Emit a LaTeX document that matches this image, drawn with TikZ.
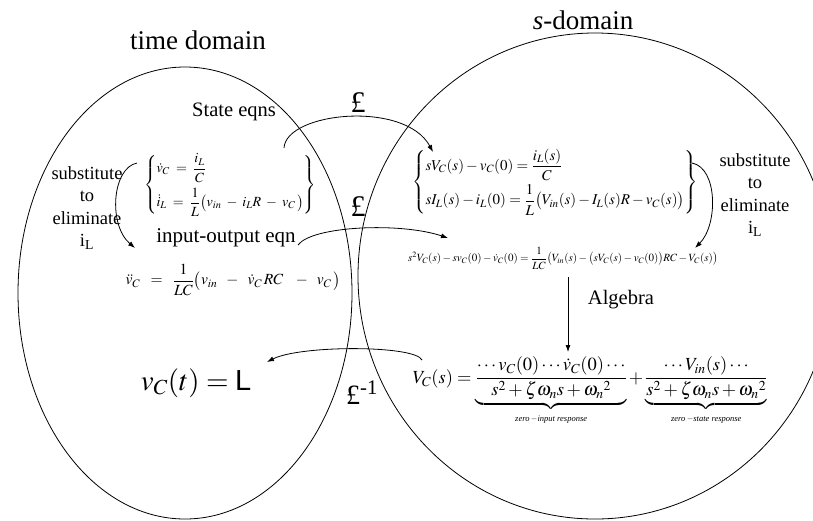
\documentclass[tikz,border=0pt]{standalone}
\usepackage{amsmath}
\usepackage{mathptmx}
\usepackage{fontspec}
\setmainfont{Liberation Serif}
\setsansfont{Liberation Sans}
\usetikzlibrary{arrows.meta}
\newcommand{\fs}[1]{\fontsize{#1}{#1}\selectfont}
\tikzset{
  txt/.style={inner sep=0pt, align=center},
  conn/.style={line width=0.8pt, -{Latex[length=7pt,width=5pt]}},
  dom/.style={line width=0.8pt},
}
\begin{document}
\begin{tikzpicture}[x=1pt,y=-1pt]
\useasboundingbox (0,0) rectangle (813,520);
\clip (0,0) rectangle (813,520);
% domains
\draw[dom] (185,293) ellipse [x radius=167pt, y radius=226pt];
\draw[dom] (595,276) ellipse [x radius=237pt, y radius=243pt];
\node[txt, font=\fs{27}] (td) at (198,40) {time domain};
\node[txt, font=\fs{27}] (sd) at (583,20) {\textit{s}-domain};
% time-domain texts
\node[txt, font=\fs{20.5}] (se) at (234,112) {State eqns};
\node[txt, font=\fs{14}] (lse) at (230,185)
  {$\left\{\begin{array}{@{}l@{}} \dot v_{C} \;=\; \dfrac{i_L}{C} \\[11pt]
   \dot{i}_{L} \;=\; \dfrac{1}{L}\bigl(v_{in} \;-\; i_L R \;-\; v_C\,\bigr) \end{array}\right\}$};
\node[txt, font=\fontsize{18.5}{22.5}\selectfont] (subl) at (87,208) {substitute\\to\\eliminate\\i\textsubscript{L}};
\node[txt, font=\fs{21}] (ioe) at (226,238) {input-output eqn};
\node[txt, font=\fs{15.5}] (ioeq) at (233,280)
  {$\ddot v_{C} \;\;=\;\; \dfrac{1}{LC}\bigl(v_{in} \;\;-\;\; \dot v_C\, RC \;\;\;-\;\; v_C\,\bigr)$};
\node[txt, font=\fs{29}] (vt) at (196,383) {$v_C(t) = \textsf{L}$};
% s-domain texts
\node[txt, font=\fs{15}] (rse) at (555,182)
  {$\left\{\begin{array}{@{}l@{}} sV_C(s) - v_C(0) = \dfrac{i_L(s)}{C} \\[10pt]
   sI_L(s) - i_L(0) = \dfrac{1}{L}\bigl(V_{in}(s) - I_L(s)R - v_C(s)\bigr) \end{array}\right\}$};
\node[txt, font=\fontsize{18.5}{22.5}\selectfont] (subr) at (755,195) {substitute\\to\\eliminate\\i\textsubscript{L}};
\node[txt, font=\fs{11}] (s2) at (563,258)
  {$s^2V_C(s) - sv_C(0) - \dot v_C(0) = \dfrac{1}{LC}\bigl(V_{in}(s) - \bigl(sV_C(s) - v_C(0)\bigr)RC - V_C(s)\bigr)$};
\node[txt, font=\fs{20.5}] (alg) at (621,300) {Algebra};
\node[txt, font=\fs{18.5}] (vs) at (590,391)
  {$V_C(s) = \underbrace{\dfrac{\cdots v_C(0)\cdots \dot v_C(0)\cdots}{s^2+\zeta\omega_n s+{\omega_n}^2}}_{\rule{0pt}{10pt}\mbox{\fs{8.5}\itshape zero\,$-$input response}}
   + \underbrace{\dfrac{\cdots V_{in}(s)\cdots}{s^2+\zeta\omega_n s+{\omega_n}^2}}_{\rule{0pt}{10pt}\mbox{\fs{8.5}\itshape zero\,$-$state response}}$};
% transform labels
\node[txt, font=\fs{30}] (L1) at (358,103) {£};
\node[txt, font=\fs{30}] (L2) at (358,207) {£};
\node[txt, font=\fs{28}] (L3) at (362,393) {£\textsuperscript{-1}};
% connector end points
\coordinate (a1s) at (284,148);
\coordinate (a1e) at (433,152);
\coordinate (a2s) at (298,245);
\coordinate (a2e) at (448,238);
\coordinate (a3s) at (422,360);
\coordinate (a3e) at (267,362);
\coordinate (a4s) at (137,163);
\coordinate (a4e) at (135,248);
\coordinate (a5s) at (692,163);
\coordinate (a5e) at (695,248);
\coordinate (a6s) at (568,277);
\coordinate (a6e) at (568,352);
% connectors
\draw[conn] (a1s) .. controls (286,112) and (405,100) .. (a1e);
\draw[conn] (a2s) .. controls (312,226) and (400,222) .. (a2e);
\draw[conn] (a3s) .. controls (415,345) and (300,345) .. (a3e);
\draw[conn] (a4s) .. controls (112,168) and (108,225) .. (a4e);
\draw[conn] (a5s) .. controls (718,168) and (718,225) .. (a5e);
\draw[conn] (a6s) -- (a6e);
\end{tikzpicture}
\end{document}
